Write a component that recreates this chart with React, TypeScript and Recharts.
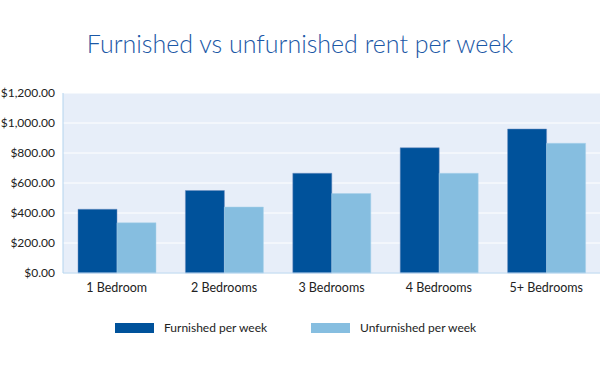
import React from "react";
import {
  BarChart,
  Bar,
  XAxis,
  YAxis,
  CartesianGrid,
} from "recharts";

const categories = ["1 Bedroom", "2 Bedrooms", "3 Bedrooms", "4 Bedrooms", "5+ Bedrooms"];
const furnished = [425, 550, 665, 835, 960];
const unfurnished = [335, 440, 530, 665, 865];
const yTicks = [0, 200, 400, 600, 800, 1000, 1200];

const data = categories.map((name, i) => ({
  name,
  furnished: furnished[i],
  unfurnished: unfurnished[i],
}));

const FONT = "Lato, 'Open Sans', sans-serif";
const DARK = "#00529b";
const LIGHT = "#86bee0";

const fmt = (v: number) =>
  "$" + v.toLocaleString("en-US", { minimumFractionDigits: 2, maximumFractionDigits: 2 });

// legend drawn by hand, sits under the x axis
const LegendBox = () => (
  <div style={{ position: "absolute", left: 0, top: 318, width: 600, height: 20, fontFamily: FONT, fontSize: 12, color: "#222" }}>
    <div style={{ position: "absolute", left: 115, top: 5, width: 39, height: 10, background: DARK }} />
    <div style={{ position: "absolute", left: 164, top: 2, lineHeight: "16px" }}>Furnished per week</div>
    <div style={{ position: "absolute", left: 311, top: 5, width: 39, height: 10, background: LIGHT }} />
    <div style={{ position: "absolute", left: 360, top: 2, lineHeight: "16px" }}>Unfurnished per week</div>
  </div>
);

export default function App() {
  return (
    <div style={{ position: "absolute", left: 0, top: 0, width: 600, height: 368, background: "#fff" }}>
      <div
        style={{
          position: "absolute",
          left: 0,
          top: 28,
          width: 600,
          textAlign: "center",
          fontFamily: FONT,
          fontWeight: 300,
          fontSize: 25,
          color: "#1b58a6",
          lineHeight: "30px",
        }}
      >
        Furnished vs unfurnished rent per week
      </div>
      <BarChart
        width={600}
        height={368}
        data={data}
        margin={{ top: 93, right: 0, bottom: 65, left: 0 }}
        barGap={0}
        barCategoryGap={15}
      >
        <CartesianGrid vertical={false} stroke="#ffffff" fill="#e7eef9" />
        <XAxis
          dataKey="name"
          height={30}
          tickSize={0}
          tickMargin={10}
          axisLine={{ stroke: "#b3d3ee" }}
          tick={{ fontFamily: FONT, fontSize: 12.5, fill: "#222" }}
        />
        <YAxis
          width={63}
          domain={[0, 1200]}
          ticks={yTicks}
          tickFormatter={fmt}
          tickSize={0}
          tickMargin={8}
          axisLine={{ stroke: "#b3d3ee" }}
          tick={{ fontFamily: FONT, fontSize: 12, fill: "#222" }}
        />
        <Bar dataKey="furnished" fill={DARK} stroke="#6f8fc0" strokeWidth={0.5} isAnimationActive={false} />
        <Bar dataKey="unfurnished" fill={LIGHT} stroke="#a9d0ea" strokeWidth={0.5} isAnimationActive={false} />
      </BarChart>
      <LegendBox />
    </div>
  );
}
